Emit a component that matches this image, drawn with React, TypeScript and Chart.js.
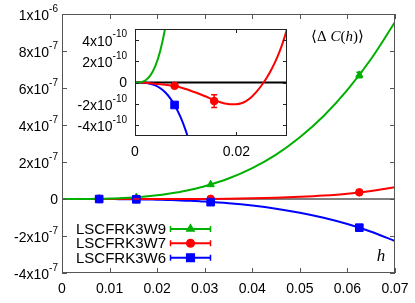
import React, { useEffect, useRef } from 'react';
import { Chart, registerables } from 'chart.js';
import { drawPoint } from 'chart.js/helpers';

Chart.register(...registerables);

// ---------- data ----------
const curveH = [0, 0.001, 0.002, 0.003, 0.004, 0.005, 0.006, 0.007, 0.008, 0.009, 0.010, 0.011, 0.012, 0.013, 0.014, 0.015, 0.016, 0.017, 0.018, 0.019, 0.020, 0.021, 0.022, 0.023, 0.024, 0.025, 0.026, 0.027, 0.028, 0.029, 0.030, 0.035, 0.040, 0.045, 0.050, 0.055, 0.060, 0.065, 0.070];
const curveW9 = [0, 2.37e-12, 1.9e-11, 6.44e-11, 1.53e-10, 3.0e-10, 5.19e-10, 8.26e-10, 1.24e-9, 1.77e-9, 2.43e-9, 3.24e-9, 4.22e-9, 5.37e-9, 6.73e-9, 8.29e-9, 1.009e-8, 1.213e-8, 1.444e-8, 1.702e-8, 1.99e-8, 2.31e-8, 2.66e-8, 3.05e-8, 3.47e-8, 3.93e-8, 4.44e-8, 4.98e-8, 5.57e-8, 6.2e-8, 6.88e-8, 1.106e-7, 1.67e-7, 2.4e-7, 3.34e-7, 4.49e-7, 5.9e-7, 7.58e-7, 9.57e-7];
const curveW7 = [0, -1e-12, -3e-12, -7e-12, -1.2e-11, -1.7e-11, -2.2e-11, -2.7e-11, -3.4e-11, -4.6e-11, -6.1e-11, -7.7e-11, -9.4e-11, -1.12e-10, -1.31e-10, -1.52e-10, -1.71e-10, -1.87e-10, -1.98e-10, -2.04e-10, -2.03e-10, -1.94e-10, -1.72e-10, -1.36e-10, -8.6e-11, -2.6e-11, 4.4e-11, 1.28e-10, 2.27e-10, 3.5e-10, 5.0e-10, 1.5e-9, 3.4e-9, 6.9e-9, 1.2e-8, 1.9e-8, 2.9e-8, 4.35e-8, 6.3e-8];
const curveW6 = [0, -4.1e-13, -3.35e-12, -1.14e-11, -2.73e-11, -5.37e-11, -9.36e-11, -1.5e-10, -2.26e-10, -3.24e-10, -4.48e-10, -6.0e-10, -7.86e-10, -1.007e-9, -1.267e-9, -1.57e-9, -1.921e-9, -2.322e-9, -2.777e-9, -3.29e-9, -3.87e-9, -4.51e-9, -5.22e-9, -6.01e-9, -6.88e-9, -7.83e-9, -8.87e-9, -1.0e-8, -1.123e-8, -1.257e-8, -1.4e-8, -2.3e-8, -3.55e-8, -5.21e-8, -7.38e-8, -1.011e-7, -1.351e-7, -1.767e-7, -2.268e-7];

const pointH = [0.0078125, 0.015625, 0.03125, 0.0625];
const pointsW9 = [1.15e-9, 9.4e-9, 7.8e-8, 6.7e-7];
const errW9 = [0, 0, 0, 1.5e-8];
const pointsW7 = [-3.1e-11, -1.74e-10, 7e-10, 3.6e-8];
const errW7 = [0, 6e-11, 0, 0];
const pointsW6 = [-2.1e-10, -1.78e-9, -1.7e-8, -1.55e-7];
const errW6 = [0, 0, 0, 0];

const seriesNames = ['LSCFRK3W9', 'LSCFRK3W7', 'LSCFRK3W6'];
const seriesColors = ['#00b000', '#ff0000', '#0000ff'];
const seriesMarkers = ['triangle', 'circle', 'rect'];
const seriesRadius = [4.2, 3.8, 5.4];

const mainXTicks = [0, 0.01, 0.02, 0.03, 0.04, 0.05, 0.06, 0.07];
const mainXTickLabels = ['0', '0.01', '0.02', '0.03', '0.04', '0.05', '0.06', '0.07'];
const mainYTicks = [-4e-7, -2e-7, 0, 2e-7, 4e-7, 6e-7, 8e-7, 1e-6];
const mainYTickBase = ['-4x10', '-2x10', '0', '2x10', '4x10', '6x10', '8x10', '1x10'];
const mainYTickExp = ['-7', '-7', '', '-7', '-7', '-7', '-7', '-6'];

const insetXTicks = [0, 0.02];
const insetXTickLabels = ['0', '0.02'];
const insetYTicks = [-4e-10, -2e-10, 0, 2e-10, 4e-10];
const insetYTickBase = ['-4x10', '-2x10', '0', '2x10', '4x10'];
const insetYTickExp = ['-10', '-10', '', '-10', '-10'];

const SANS = '"Liberation Sans", Arial, Helvetica, sans-serif';
const SERIF = '"Liberation Serif", "Times New Roman", serif';

// ---------- helpers ----------
function buildDatasets() {
  const curves = [curveW9, curveW7, curveW6];
  const pts = [pointsW9, pointsW7, pointsW6];
  const markerOrder = [2, 1, 0];
  const curveOrder = [3, 4, 5];
  const ds: any[] = [];
  for (let i = 0; i < 3; i++) {
    ds.push({
      label: seriesNames[i] + ' fit',
      data: curveH.map((x, k) => ({ x, y: curves[i][k] })),
      showLine: true,
      borderColor: seriesColors[i],
      backgroundColor: seriesColors[i],
      borderWidth: 2,
      pointRadius: 0,
      pointHoverRadius: 0,
      cubicInterpolationMode: 'monotone',
      order: curveOrder[i],
    });
    ds.push({
      label: seriesNames[i],
      data: pointH.map((x, k) => ({ x, y: pts[i][k] })),
      showLine: false,
      pointStyle: seriesMarkers[i],
      pointRadius: seriesRadius[i],
      backgroundColor: seriesColors[i],
      borderColor: seriesColors[i],
      borderWidth: 1,
      order: markerOrder[i],
    });
  }
  return ds;
}

function drawYLabels(ctx: CanvasRenderingContext2D, scale: any, values: number[], bases: string[], exps: string[], xRight: number) {
  values.forEach((v, i) => {
    const y = scale.getPixelForValue(v);
    ctx.textBaseline = 'middle';
    ctx.fillStyle = '#000';
    if (exps[i]) {
      ctx.font = `10px ${SANS}`;
      const ew = ctx.measureText(exps[i]).width;
      ctx.font = `14px ${SANS}`;
      ctx.textAlign = 'right';
      ctx.fillText(bases[i], xRight - ew, y + 2);
      ctx.font = `10px ${SANS}`;
      ctx.textAlign = 'left';
      ctx.fillText(exps[i], xRight - ew, y - 5);
    } else {
      ctx.font = `14px ${SANS}`;
      ctx.textAlign = 'right';
      ctx.fillText(bases[i], xRight, y + 1);
    }
  });
}

function drawFrame(ctx: CanvasRenderingContext2D, chart: any, xTicks: number[], yTicks: number[], tickLen: number, color: string, lw: number) {
  const a = chart.chartArea;
  const xs = chart.scales.x;
  const ys = chart.scales.y;
  ctx.save();
  ctx.strokeStyle = color;
  ctx.lineWidth = lw;
  ctx.beginPath();
  xTicks.forEach((v) => {
    const x = Math.round(xs.getPixelForValue(v)) + 0.5;
    ctx.moveTo(x, a.bottom);
    ctx.lineTo(x, a.bottom - tickLen);
    ctx.moveTo(x, a.top);
    ctx.lineTo(x, a.top + tickLen);
  });
  yTicks.forEach((v) => {
    const y = Math.round(ys.getPixelForValue(v)) + 0.5;
    ctx.moveTo(a.left, y);
    ctx.lineTo(a.left + tickLen, y);
    ctx.moveTo(a.right, y);
    ctx.lineTo(a.right - tickLen, y);
  });
  ctx.stroke();
  ctx.strokeRect(a.left + 0.5, a.top + 0.5, a.right - a.left - 1, a.bottom - a.top - 1);
  ctx.restore();
}

function drawZeroLine(chart: any, lw: number) {
  const ctx = chart.ctx;
  const a = chart.chartArea;
  const y = chart.scales.y.getPixelForValue(0);
  ctx.save();
  ctx.strokeStyle = '#000';
  ctx.lineWidth = lw;
  ctx.beginPath();
  ctx.moveTo(a.left, y);
  ctx.lineTo(a.right, y);
  ctx.stroke();
  ctx.restore();
}

function drawErrorBars(chart: any) {
  const ctx = chart.ctx;
  const a = chart.chartArea;
  const xs = chart.scales.x;
  const ys = chart.scales.y;
  const pts = [pointsW9, pointsW7, pointsW6];
  const errs = [errW9, errW7, errW6];
  ctx.save();
  ctx.beginPath();
  ctx.rect(a.left, a.top, a.right - a.left, a.bottom - a.top);
  ctx.clip();
  for (let i = 0; i < 3; i++) {
    ctx.strokeStyle = seriesColors[i];
    ctx.lineWidth = 1.5;
    pointH.forEach((h, k) => {
      const e = errs[i][k];
      if (!e) return;
      const x = xs.getPixelForValue(h);
      const y1 = ys.getPixelForValue(pts[i][k] - e);
      const y2 = ys.getPixelForValue(pts[i][k] + e);
      ctx.beginPath();
      ctx.moveTo(x, y1);
      ctx.lineTo(x, y2);
      ctx.moveTo(x - 3, y1);
      ctx.lineTo(x + 3, y1);
      ctx.moveTo(x - 3, y2);
      ctx.lineTo(x + 3, y2);
      ctx.stroke();
    });
  }
  ctx.restore();
}

const mainPlugin = {
  id: 'mainDecor',
  beforeDraw(chart: any) {
    const ctx = chart.ctx;
    ctx.save();
    ctx.fillStyle = '#fff';
    ctx.fillRect(0, 0, chart.width, chart.height);
    ctx.restore();
  },
  beforeDatasetsDraw(chart: any) {
    drawZeroLine(chart, 1);
  },
  afterDatasetsDraw(chart: any) {
    drawErrorBars(chart);
  },
  afterDraw(chart: any) {
    const ctx = chart.ctx as CanvasRenderingContext2D;
    const a = chart.chartArea;
    drawFrame(ctx, chart, mainXTicks, mainYTicks, 5, '#555', 1);
    ctx.save();
    // x labels
    ctx.fillStyle = '#000';
    ctx.font = `14px ${SANS}`;
    ctx.textAlign = 'center';
    ctx.textBaseline = 'middle';
    mainXTicks.forEach((v, i) => {
      ctx.fillText(mainXTickLabels[i], chart.scales.x.getPixelForValue(v), a.bottom + 16);
    });
    drawYLabels(ctx, chart.scales.y, mainYTicks, mainYTickBase, mainYTickExp, a.left - 4);
    // legend
    const legY = [229, 243.3, 257.7];
    for (let i = 0; i < 3; i++) {
      const y = legY[i];
      ctx.font = `15px ${SANS}`;
      ctx.fillStyle = '#000';
      ctx.textAlign = 'right';
      ctx.textBaseline = 'middle';
      ctx.fillText(seriesNames[i], 166, y + 1);
      ctx.strokeStyle = seriesColors[i];
      ctx.lineWidth = 2;
      ctx.beginPath();
      ctx.moveTo(170, y);
      ctx.lineTo(211, y);
      ctx.stroke();
      ctx.lineWidth = 1.5;
      ctx.beginPath();
      ctx.moveTo(170.5, y - 3);
      ctx.lineTo(170.5, y + 3);
      ctx.moveTo(210.5, y - 3);
      ctx.lineTo(210.5, y + 3);
      ctx.stroke();
      ctx.fillStyle = seriesColors[i];
      drawPoint(ctx, { pointStyle: seriesMarkers[i], radius: seriesRadius[i], rotation: 0, borderWidth: 1 } as any, 190.5, y);
    }
    // axis annotations
    ctx.fillStyle = '#000';
    ctx.font = `italic 17px ${SERIF}`;
    ctx.textAlign = 'center';
    ctx.textBaseline = 'alphabetic';
    ctx.fillText('h', 381, 261);
    ctx.textAlign = 'left';
    let x = 311;
    const by = 41;
    ctx.font = `15px ${SERIF}`;
    ctx.fillText('\u27E8\u0394 ', x, by);
    x += ctx.measureText('\u27E8\u0394 ').width;
    ctx.font = `italic 15px ${SERIF}`;
    ctx.fillText('C', x, by);
    x += ctx.measureText('C').width;
    ctx.font = `15px ${SERIF}`;
    ctx.fillText('(', x, by);
    x += ctx.measureText('(').width;
    ctx.font = `italic 15px ${SERIF}`;
    ctx.fillText('h', x, by);
    x += ctx.measureText('h').width;
    ctx.font = `15px ${SERIF}`;
    ctx.fillText(')\u27E9', x, by);
    ctx.restore();
  },
};

const insetPlugin = {
  id: 'insetDecor',
  beforeDraw(chart: any) {
    const ctx = chart.ctx;
    const a = chart.chartArea;
    ctx.save();
    ctx.fillStyle = '#fff';
    ctx.fillRect(a.left, a.top, a.right - a.left, a.bottom - a.top);
    ctx.restore();
  },
  beforeDatasetsDraw(chart: any) {
    drawZeroLine(chart, 2);
  },
  afterDatasetsDraw(chart: any) {
    drawErrorBars(chart);
  },
  afterDraw(chart: any) {
    const ctx = chart.ctx as CanvasRenderingContext2D;
    const a = chart.chartArea;
    drawFrame(ctx, chart, insetXTicks, insetYTicks, 4, '#222', 1);
    ctx.save();
    ctx.fillStyle = '#000';
    ctx.font = `14px ${SANS}`;
    ctx.textAlign = 'center';
    ctx.textBaseline = 'middle';
    insetXTicks.forEach((v, i) => {
      ctx.fillText(insetXTickLabels[i], chart.scales.x.getPixelForValue(v), a.bottom + 16);
    });
    drawYLabels(ctx, chart.scales.y, insetYTicks, insetYTickBase, insetYTickExp, a.left - 8);
    ctx.restore();
  },
};

function axisCfg(min: number, max: number, ticks: number[], fit: (s: any) => void) {
  return {
    type: 'linear',
    min,
    max,
    afterBuildTicks: (s: any) => {
      s.ticks = ticks.map((v) => ({ value: v }));
    },
    ticks: { display: false },
    grid: { display: false },
    border: { display: false },
    afterFit: fit,
  };
}

export default function App() {
  const mainRef = useRef<HTMLCanvasElement>(null);
  const insetRef = useRef<HTMLCanvasElement>(null);

  useEffect(() => {
    const common = {
      animation: false,
      responsive: false,
      devicePixelRatio: 1,
      events: [],
      plugins: { legend: { display: false }, tooltip: { enabled: false } },
    };
    const main = new Chart(mainRef.current as HTMLCanvasElement, {
      type: 'scatter',
      data: { datasets: buildDatasets() },
      options: {
        ...common,
        layout: { padding: { top: 14, right: 20, left: 0, bottom: 0 } },
        scales: {
          x: axisCfg(0, 0.07, mainXTicks, (s: any) => { s.height = 30; }),
          y: axisCfg(-4e-7, 1e-6, mainYTicks, (s: any) => { s.width = 62; }),
        },
      } as any,
      plugins: [mainPlugin],
    });
    const inset = new Chart(insetRef.current as HTMLCanvasElement, {
      type: 'scatter',
      data: { datasets: buildDatasets() },
      options: {
        ...common,
        layout: { padding: { top: 9, right: 13, left: 0, bottom: 0 } },
        scales: {
          x: axisCfg(0, 0.03, insetXTicks, (s: any) => { s.height = 29; }),
          y: axisCfg(-5e-10, 5e-10, insetYTicks, (s: any) => { s.width = 75; }),
        },
      } as any,
      plugins: [insetPlugin],
    });
    return () => {
      main.destroy();
      inset.destroy();
    };
  }, []);

  return (
    <div style={{ position: 'fixed', left: 0, top: 0, width: 415, height: 303, background: '#fff' }}>
      <canvas ref={mainRef} width={415} height={303} style={{ position: 'absolute', left: 0, top: 0, width: 415, height: 303 }} />
      <canvas ref={insetRef} width={240} height={145} style={{ position: 'absolute', left: 60, top: 20, width: 240, height: 145 }} />
    </div>
  );
}
